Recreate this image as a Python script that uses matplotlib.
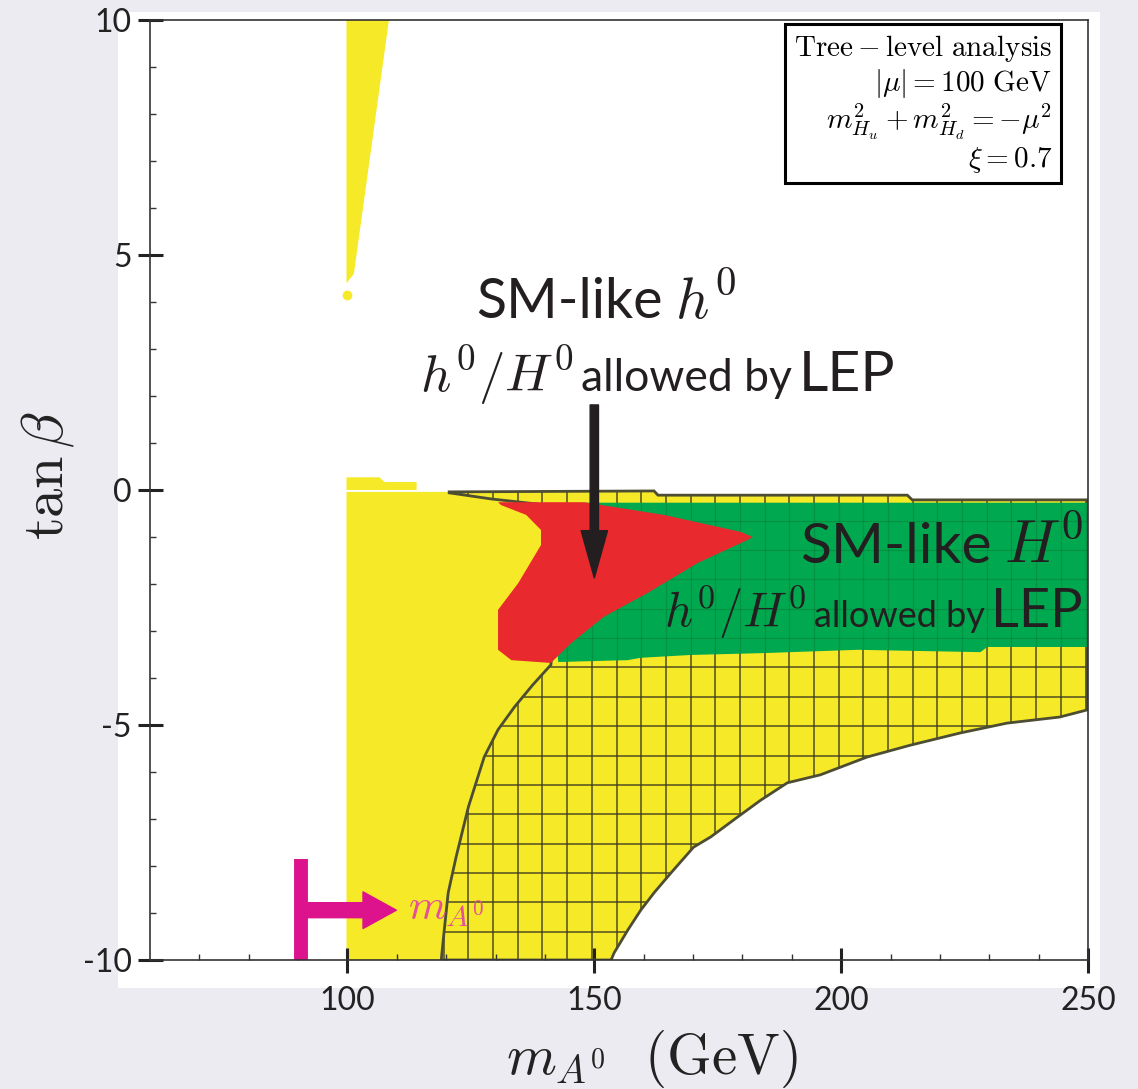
import numpy as np
import matplotlib.pyplot as plt
from matplotlib.patches import Polygon, Rectangle
from matplotlib.collections import LineCollection
from matplotlib.transforms import IdentityTransform

plt.rcParams['font.family'] = ['Lato', 'DejaVu Sans']
plt.rcParams['mathtext.fontset'] = 'cm'
plt.rcParams['axes.unicode_minus'] = False

# ---- data (m_A0 in GeV, tan beta) ----
# thin yellow sliver at the top
sliver_x = [99.8, 99.8, 108.4, 101.3]
sliver_y = [4.4, 10.0, 10.0, 4.6]
dot_x, dot_y = 99.9, 4.15

# small bump on top of the big yellow region
bump_x = [99.8, 99.8, 106.5, 107.5, 114.0, 114.0]
bump_y = [0.0, 0.27, 0.27, 0.17, 0.17, 0.0]

# upper edge of the hatched region (left -> right)
top_x = [120.6, 162.1, 162.9, 213.4, 214.4, 249.8]
top_y = [-0.04, -0.02, -0.11, -0.11, -0.21, -0.21]

# lower boundary of the allowed region (right -> left)
low_x = [249.8, 244.3, 233.6, 224.1, 214.0, 205.3, 195.8, 189.1, 183.7, 179.0,
         173.6, 170.1, 165.5, 162.1, 159.4, 156.8, 154.0, 153.4]
low_y = [-4.68, -4.83, -4.96, -5.17, -5.43, -5.68, -6.06, -6.23, -6.60, -6.96,
         -7.38, -7.60, -8.15, -8.57, -8.94, -9.36, -9.85, -10.0]

# left boundary of the hatched region (bottom -> top)
left_x = [119.0, 119.4, 120.4, 122.0, 124.5, 127.7, 130.5, 133.8, 137.5, 141.2,
          143.0, 141.0, 138.6, 129.1, 120.6]
left_y = [-10.0, -9.57, -8.57, -7.81, -6.74, -5.68, -5.10, -4.62, -4.15, -3.72,
          -2.0, -0.6, -0.30, -0.19, -0.06]

# left edge of the yellow region
yel_left = 99.8
ymin, ymax = -10.0, 10.0

# green band: SM-like H0
green_x = [147.9, 249.8, 249.8, 229.6, 228.2, 203.3, 184.3, 169.5, 159.4,
           156.8, 142.7, 141.0]
green_y = [-0.27, -0.27, -3.34, -3.34, -3.45, -3.40, -3.47, -3.51, -3.57,
           -3.62, -3.66, -2.0]

# red region: SM-like h0
red_x = [130.5, 147.9, 164.1, 179.6, 182.1, 181.1, 171.0, 160.8, 151.9, 145.3,
         141.2, 133.2, 130.5, 130.5, 134.6, 139.2, 139.2, 136.2, 131.1]
red_y = [-0.26, -0.26, -0.53, -0.89, -1.0, -1.06, -1.55, -2.19, -2.70, -3.26,
         -3.68, -3.62, -3.40, -2.55, -1.98, -1.17, -0.85, -0.53, -0.32]

# scan grid drawn over the hatched region
grid_x = np.arange(119.5, 250.0, 5.0)
grid_y = np.arange(-9.40, 0.2, 0.625)

# markers / annotations
mA_bar_x, mA_bar_top = 90.5, -7.85
mA_arrow_y, mA_arrow_end = -8.94, 109.9
arrow_x, arrow_from, arrow_to = 150.0, 1.81, -1.87

YELLOW = '#f6e927'
RED = '#e8292e'
GREEN = '#00a84f'
EDGE = '#4d4d33'

fig = plt.figure(figsize=(11.38, 10.89), dpi=100, facecolor='#ecebf1')
# white backing sheet behind the plot
fig.patches.append(Rectangle((118 / 1138, 1 - 988 / 1089), (1100 - 118) / 1138,
                             (988 - 12) / 1089, transform=fig.transFigure,
                             facecolor='white', edgecolor='none', zorder=-5))
ax = fig.add_axes([150 / 1138, 1 - 960 / 1089, 938 / 1138, 940 / 1089])
ax.set_facecolor('white')
ax.set_xlim(60, 250)
ax.set_ylim(ymin, ymax)

# big yellow region
yel_xs = np.concatenate([[yel_left, yel_left], top_x, low_x])
yel_ys = np.concatenate([[ymin, top_y[0]], top_y, low_y])
ax.add_patch(Polygon(np.column_stack([yel_xs, yel_ys]), closed=True,
                     facecolor=YELLOW, edgecolor='none', zorder=1))
ax.add_patch(Polygon(np.column_stack([bump_x, bump_y]), closed=True,
                     facecolor=YELLOW, edgecolor='none', zorder=1))
ax.add_patch(Polygon(np.column_stack([sliver_x, sliver_y]), closed=True,
                     facecolor=YELLOW, edgecolor='none', zorder=1))
ax.plot([dot_x], [dot_y], 'o', color=YELLOW, ms=6, zorder=1)

# hatched region
h_xs = np.concatenate([top_x, low_x, left_x])
h_ys = np.concatenate([top_y, low_y, left_y])
hatch = Polygon(np.column_stack([h_xs, h_ys]), closed=True,
                facecolor='none', edgecolor=EDGE, lw=2.0, zorder=3)
ax.add_patch(hatch)
segs = [[(gx, ymin), (gx, 0.5)] for gx in grid_x] + \
       [[(100, gy), (251, gy)] for gy in grid_y]
lc = LineCollection(segs, colors='#3a3a20', linewidths=1.3, alpha=0.75, zorder=2)
ax.add_collection(lc)
lc.set_clip_path(hatch)

# green band with faint grid
green = Polygon(np.column_stack([green_x, green_y]), closed=True,
                facecolor=GREEN, edgecolor='none', zorder=4)
ax.add_patch(green)
lc2 = LineCollection(segs, colors='#0d6b33', linewidths=0.9, alpha=0.35, zorder=4.5)
ax.add_collection(lc2)
lc2.set_clip_path(green)

# red region
ax.add_patch(Polygon(np.column_stack([red_x, red_y]), closed=True,
                     facecolor=RED, edgecolor='none', zorder=5))

# black arrow
ax.annotate('', xy=(arrow_x, arrow_to), xytext=(arrow_x, arrow_from),
            arrowprops=dict(arrowstyle='simple,head_length=1.7,head_width=0.95,tail_width=0.3',
                            mutation_scale=20, color='#231f20', shrinkA=0, shrinkB=0),
            zorder=7)

# magenta m_A0 marker
ax.plot([mA_bar_x, mA_bar_x], [ymin, mA_bar_top], color='#dc138c', lw=10,
        solid_capstyle='butt', clip_on=False, zorder=7)
ax.annotate('', xy=(mA_arrow_end, mA_arrow_y), xytext=(mA_bar_x, mA_arrow_y),
            arrowprops=dict(arrowstyle='simple,head_length=1.0,head_width=1.1,tail_width=0.45',
                            mutation_scale=24, color='#dc138c', shrinkA=0, shrinkB=0),
            zorder=7)
ax.text(112.2, mA_arrow_y, r'$m_{A^0}$', color='#e4509a', fontsize=31,
        va='center', ha='left', zorder=8)

# legend box
ax.text(0.9616, 0.986,
        '$\\mathrm{Tree-level\\ analysis}$\n$|\\mu| = 100\\ \\mathrm{GeV}$\n'
        '$m^2_{H_u} + m^2_{H_d} = -\\mu^2$\n$\\xi = 0.7$',
        transform=ax.transAxes, ha='right', va='top', fontsize=21,
        multialignment='right', linespacing=1.1, zorder=9,
        bbox=dict(boxstyle='square,pad=0.3', fc='white', ec='black', lw=2.2))

# axes styling
for s in ax.spines.values():
    s.set_color('#333333')
    s.set_linewidth(1.2)
    s.set_zorder(8)
ax.set_xticks([100, 150, 200, 250])
ax.set_xticks(np.arange(70, 250, 10), minor=True)
ax.set_yticks([-10, -5, 0, 5, 10])
ax.set_yticks(np.arange(-10, 10.5, 1), minor=True)
ax.tick_params(which='major', direction='inout', length=18, width=2.2,
               color='#222222', labelsize=23, pad=4)
ax.tick_params(which='minor', direction='in', length=4, width=1.0, color='#333333')
ax.tick_params(axis='x', which='major', pad=10)
for lab in ax.get_xticklabels() + ax.get_yticklabels():
    lab.set_color('#222222')

fig.text(652 / 1138, 1 - 1074 / 1089, r'$m_{A^0}\ \ (\mathrm{GeV})$', fontsize=41,
         ha='center', va='baseline', color='#222222')
fig.text(47 / 1138, 1 - 475 / 1089, r'$\tan\beta$', fontsize=42, rotation=90,
         ha='center', va='center', color='#222222')

# region labels, laid out piece by piece on a common baseline
fig.canvas.draw()
rend = fig.canvas.get_renderer()
H = 1089


def text_row(parts, x, py, align='left', gap=8):
    objs = [fig.text(0, H - py, s, fontsize=fs, va='baseline', ha='left',
                     transform=IdentityTransform(), color='#231f20', zorder=10)
            for s, fs in parts]
    widths = [o.get_window_extent(rend).width for o in objs]
    total = sum(widths) + gap * (len(objs) - 1)
    if align == 'right':
        x0 = x - total
    elif align == 'center':
        x0 = x - total / 2
    else:
        x0 = x
    for o, w in zip(objs, widths):
        o.set_x(x0)
        x0 += w + gap


text_row([('SM-like', 40), ('$h^0$', 42)], 606, 318, align='center', gap=12)
text_row([('$h^0/H^0$', 38), ('allowed by', 32), ('LEP', 41)], 420, 391, gap=7)
text_row([('SM-like', 41), ('$H^0$', 44)], 1083, 563, align='right', gap=12)
text_row([('$h^0/H^0$', 35), ('allowed by', 26), ('LEP', 39)], 1083, 627,
         align='right', gap=7)

fig.savefig('out.png', dpi=100, facecolor=fig.get_facecolor())
